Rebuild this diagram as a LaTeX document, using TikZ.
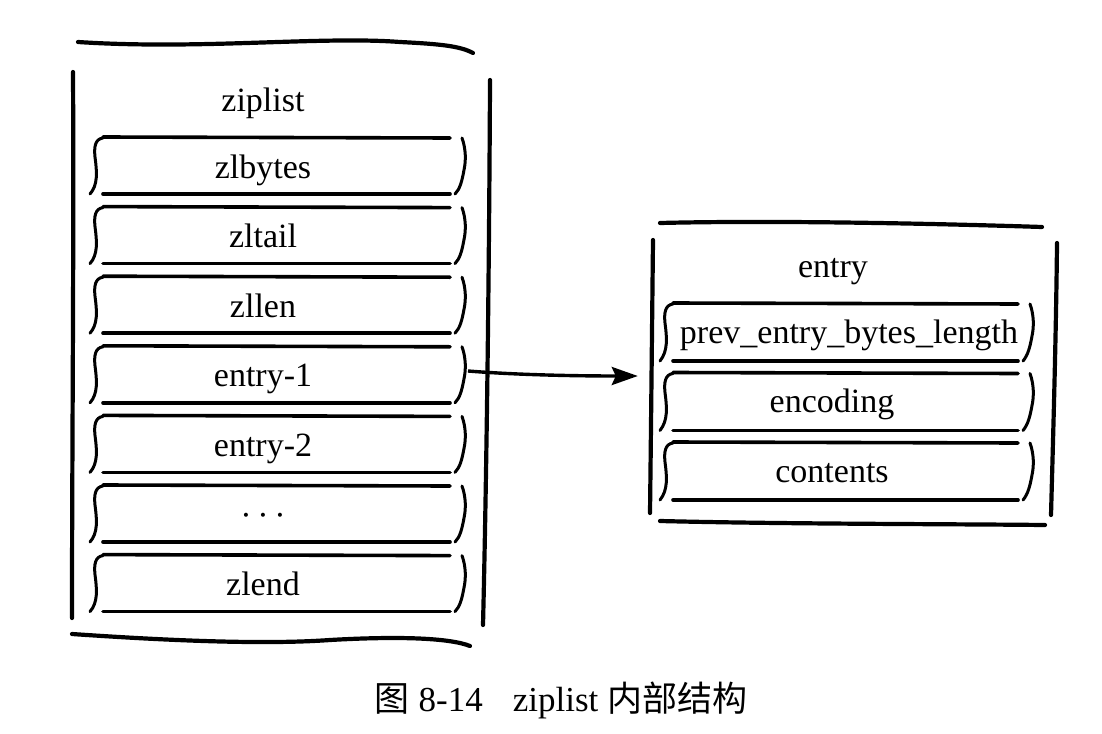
\documentclass[tikz,border=0pt]{standalone}
\usepackage{fontspec}
\setmainfont{Liberation Serif}
\newfontfamily\cjk{Noto Sans CJK SC}
\usetikzlibrary{arrows.meta}

\tikzset{
    handline/.style={line width=4.2pt,line cap=round},
    fieldline/.style={line width=3.6pt,line cap=round},
    brace/.style={line width=3pt,line cap=round},
    fieldtext/.style={font=\fontsize{34}{40}\selectfont,anchor=base,inner sep=0pt},
    link/.style={line width=3.4pt,-{Stealth[length=26pt,width=18pt,inset=4pt]}}
}

\begin{document}
\begin{tikzpicture}[x=1pt,y=-1pt]
    \useasboundingbox (0,0) rectangle (1102,733);
    % ziplist
    \draw[handline] (78,42) .. controls (200,50) and (320,36) .. (400,42)
        .. controls (440,44) and (460,46) .. (473,53);
    \draw[handline] (73,72) .. controls (74,250) and (72,450) .. (72,618);
    \draw[handline] (490,80) .. controls (489,300) and (486,500) .. (483,625);
    \draw[handline] (72,634) .. controls (160,640) and (260,645) .. (330,640)
        .. controls (400,636) and (450,638) .. (470,646);
    \node[fieldtext] (ziplist) at (263,112) {ziplist};
    \foreach \n/\txt [count=\i from 0] in {zlbytes/zlbytes,zltail/zltail,zllen/zllen,entry1/entry-1,entry2/entry-2,dots/{·\,·\,·},zlend/zlend}{
        \pgfmathsetmacro\ty{137+69.6*\i}
        \draw[fieldline] (103,\ty) -- (450,\ty+1);
        \draw[fieldline] (103,\ty+57) -- (450,\ty+57);
        \draw[brace] (103,\ty+1) .. controls (95,\ty+2) and (94,\ty+10) .. (95,\ty+20)
            .. controls (97,\ty+35) and (98,\ty+48) .. (90,\ty+57);
        \draw[brace] (462,\ty+1) .. controls (466,\ty+12) and (466,\ty+24) .. (464,\ty+33)
            .. controls (462,\ty+44) and (460,\ty+52) .. (455,\ty+57);
        \node[fieldtext] (\n) at (263,\ty+41) {\txt};
    }
    % entry
    \node[minimum width=404pt,minimum height=273pt,inner sep=0pt] (entrybox) at (855,376) {};
    \draw[handline] (660,223) .. controls (780,220) and (950,224) .. (1042,227);
    \draw[handline] (653,240) .. controls (652,330) and (651,430) .. (650,513);
    \draw[handline] (1057,243) .. controls (1056,340) and (1053,440) .. (1051,515);
    \draw[handline] (660,521) .. controls (780,524) and (950,524) .. (1045,525);
    \node[fieldtext] (entry) at (833,277) {entry};
    \foreach \n/\txt/\tx [count=\i from 0] in {prevlen/prev\_entry\_bytes\_length/849,encoding/encoding/832,contents/contents/832}{
        \pgfmathsetmacro\ty{303+69.5*\i}
        \draw[fieldline] (673,\ty) -- (1018,\ty+1);
        \draw[fieldline] (673,\ty+58) -- (1018,\ty+58);
        \draw[brace] (673,\ty+1) .. controls (665,\ty+2) and (664,\ty+10) .. (665,\ty+20)
            .. controls (667,\ty+35) and (668,\ty+48) .. (660,\ty+58);
        \draw[brace] (1030,\ty+1) .. controls (1034,\ty+12) and (1034,\ty+24) .. (1032,\ty+33)
            .. controls (1030,\ty+44) and (1028,\ty+52) .. (1023,\ty+58);
        \node[fieldtext] (\n) at (\tx,\ty+40) {\txt};
    }
    % entry-1 -> entry
    \coordinate (e1tail) at (468,371);
    \draw[link] (e1tail) .. controls +(50,4) and +(-60,0) .. ([xshift=-15pt]entrybox.west);
    \node[font=\fontsize{35}{40}\selectfont,anchor=base] (caption) at (561,711)
        {{\cjk 图} 8-14\hspace{30pt}ziplist {\cjk 内部结构}};
\end{tikzpicture}
\end{document}
